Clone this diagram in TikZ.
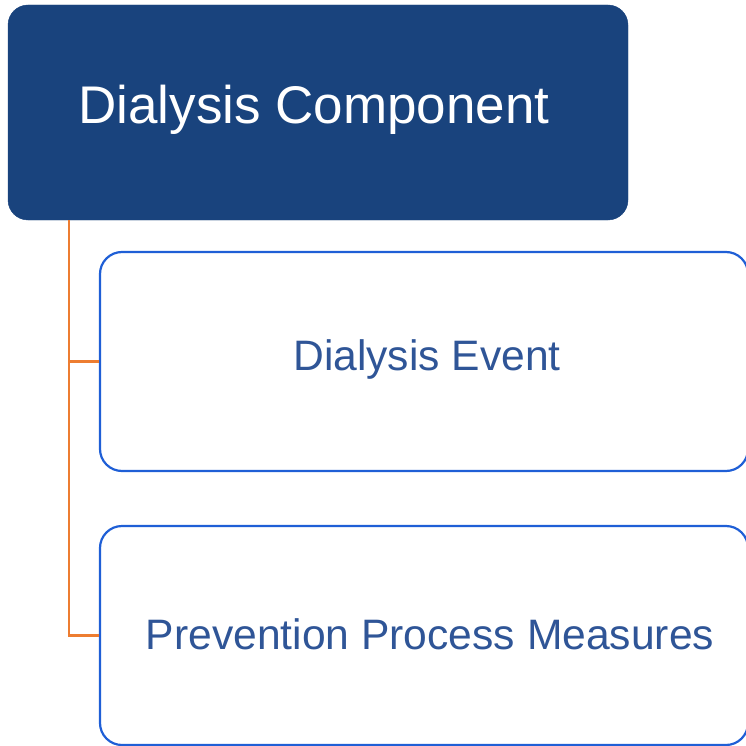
\documentclass[tikz,border=0pt]{standalone}
\usepackage{fontspec}
\setmainfont{Liberation Sans}
\definecolor{navy}{HTML}{19437D}
\definecolor{boxblue}{HTML}{1F5FD6}
\definecolor{txtblue}{HTML}{2F5597}
\definecolor{conn}{HTML}{ED7D31}
\begin{document}
\begin{tikzpicture}[x=1pt,y=1pt,
  topbox/.style={fill=navy, draw=navy, rounded corners=20pt, text=white, inner sep=0pt,
    minimum width=620pt, minimum height=215pt, font=\fontsize{53}{60}\selectfont},
  childbox/.style={draw=boxblue, line width=2.2pt, fill=white, rounded corners=22pt, text=txtblue,
    inner sep=0pt, minimum width=648pt, minimum height=219pt, font=\fontsize{42.6}{50}\selectfont},
  label/.style={text=txtblue, font=\fontsize{42.6}{50}\selectfont},
  link/.style={draw=conn, line width=2.6pt}]
\useasboundingbox (0,0) rectangle (746,-746);
\clip (0,0) rectangle (746,-746);
\node[topbox] (top) at (318,-112.5) {};
\node[text=white, font=\fontsize{53}{60}\selectfont] (tt) at (314,-110) {Dialysis Component};
\node[childbox] (c1) at (424,-361.5) {};
\node[label] (t1) at (427,-359) {Dialysis Event};
\node[childbox] (c2) at (424,-635.5) {};
\node[label] (t2) at (430,-634) {Prevention Process Measures};
\coordinate (s) at (69,-220);
\draw[link] (s) |- (c1.west);
\draw[link] (s) |- (c2.west);
\end{tikzpicture}
\end{document}
